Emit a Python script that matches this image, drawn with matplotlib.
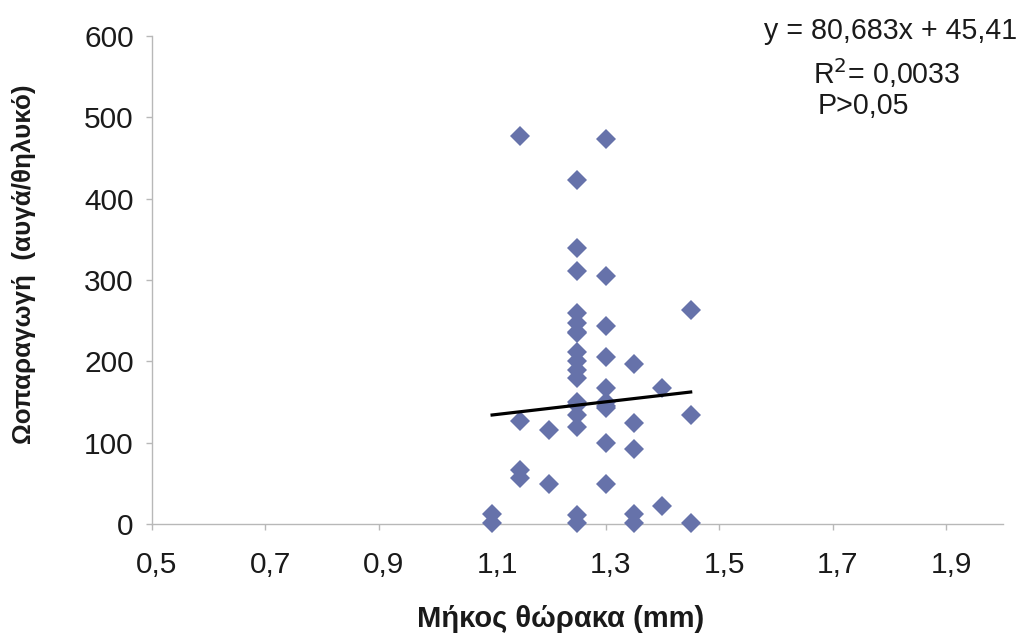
import matplotlib.pyplot as plt
from matplotlib.transforms import ScaledTranslation

plt.rcParams['font.family'] = ['Liberation Sans', 'DejaVu Sans']

# thorax length (mm) and egg production (eggs/female)
length = [1.1, 1.1,
          1.15, 1.15, 1.15, 1.15,
          1.2, 1.2,
          1.25, 1.25, 1.25, 1.25, 1.25, 1.25, 1.25, 1.25, 1.25, 1.25,
          1.25, 1.25, 1.25, 1.25, 1.25, 1.25, 1.25,
          1.3, 1.3, 1.3, 1.3, 1.3, 1.3, 1.3, 1.3, 1.3, 1.3,
          1.35, 1.35, 1.35, 1.35, 1.35,
          1.4, 1.4,
          1.45, 1.45, 1.45]
eggs = [13, 2,
        477, 127, 67, 57,
        116, 49,
        423, 339, 311, 259, 247, 236, 212, 201, 189, 179,
        147, 134, 120, 11, 2, 235, 150,
        473, 305, 244, 205, 167, 150, 143, 100, 49, 145,
        197, 124, 93, 13, 1,
        167, 23,
        263, 134, 1]

slope = 80.683
intercept = 45.41
fit_x = [1.1, 1.45]

xticks = [0.5, 0.7, 0.9, 1.1, 1.3, 1.5, 1.7, 1.9]
xtick_labels = ['0,5', '0,7', '0,9', '1,1', '1,3', '1,5', '1,7', '1,9']
yticks = [0, 100, 200, 300, 400, 500, 600]

fig = plt.figure(figsize=(10.18, 6.37), dpi=100)
ax = fig.add_axes([0.149, 0.177, 0.836, 0.767])

ax.plot(length, eggs, linestyle='none', marker='D', ms=10.5,
        color='#6672AA', markeredgewidth=0, zorder=3, clip_on=False)
ax.plot(fit_x, [slope * v + intercept for v in fit_x], color='black',
        lw=2.3, zorder=4)

ax.set_xlim(0.5, 2.0)
ax.set_ylim(0, 600)
ax.set_xticks(xticks)
ax.set_xticklabels(xtick_labels)
ax.set_yticks(yticks)

for s in ['top', 'right']:
    ax.spines[s].set_visible(False)
for s in ['left', 'bottom']:
    ax.spines[s].set_color('#b8b8b8')
    ax.spines[s].set_linewidth(1)

ax.tick_params(axis='both', colors='#b8b8b8', labelcolor='#1a1a1a',
               labelsize=21.5, length=4, width=1)
ax.tick_params(axis='x', pad=15)
ax.tick_params(axis='y', pad=9)

# excel puts the x labels a little right of the ticks
shift = ScaledTranslation(5 / 100, 0, fig.dpi_scale_trans)
for lab in ax.get_xticklabels():
    lab.set_transform(lab.get_transform() + shift)

ax.set_xlabel('Μήκος θώρακα (mm)', fontsize=21, fontweight='bold',
              color='#1a1a1a', va='center')
ax.xaxis.set_label_coords(0.481, -0.1945)
ax.set_ylabel('Ωοπαραγωγή  (αυγά/θηλυκό)', fontsize=18.7, fontweight='bold',
              color='#1a1a1a', va='center')
ax.yaxis.set_label_coords(-0.15, 0.532)

fig.text(0.999, 0.951, 'y = 80,683x + 45,41', ha='right', va='center',
         fontsize=20.6, color='#1a1a1a')
fig.text(0.799, 0.885, 'R$^2$= 0,0033', ha='left', va='center',
         fontsize=20.6, color='#1a1a1a')
fig.text(0.8035, 0.834, 'P>0,05', ha='left', va='center',
         fontsize=20.6, color='#1a1a1a')

fig.savefig('out.png', dpi=100, facecolor='white')
